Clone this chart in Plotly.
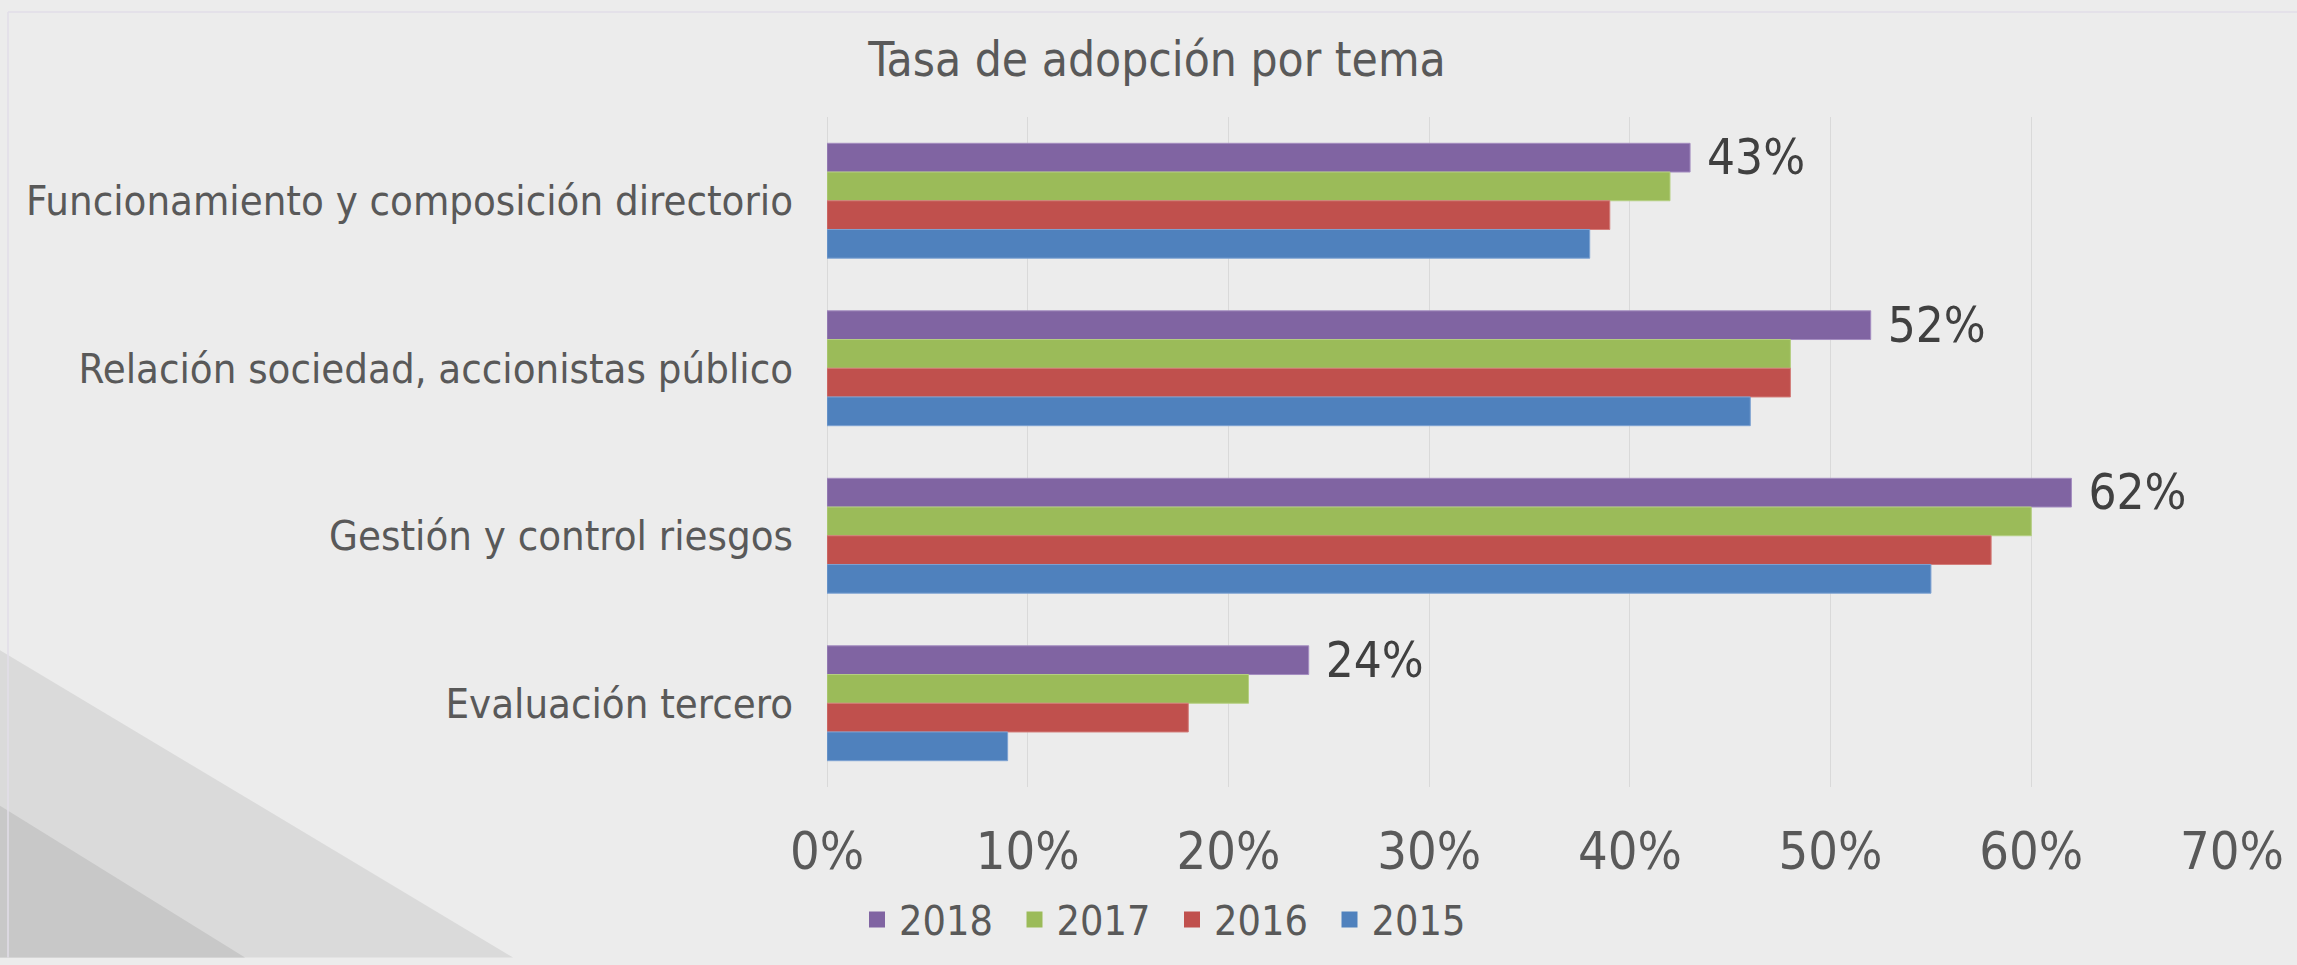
import plotly.graph_objects as go

categories = ["Funcionamiento y composición directorio",
              "Relación sociedad, accionistas público",
              "Gestión y control riesgos",
              "Evaluación tercero"]
years = ["2018", "2017", "2016", "2015"]
v2018 = [43, 52, 62, 24]
v2017 = [42, 48, 60, 21]
v2016 = [39, 48, 58, 18]
v2015 = [38, 46, 55, 9]
tick_vals = [0, 10, 20, 30, 40, 50, 60, 70]
tick_text = ["0%", "10%", "20%", "30%", "40%", "50%", "60%", "70%"]

series = [v2018, v2017, v2016, v2015]
colors = ["#8064A2", "#9BBB59", "#C0504D", "#4F81BD"]
edges = ["#A48DC0", "#B5CF82", "#D37D7A", "#7DA2D2"]

FONT = "DejaVu Sans Condensed, Liberation Sans Narrow, DejaVu Sans, sans-serif"
W, H = 2297, 965
L, R, T, B = 827, 65, 117, 172
pw, ph = W - L - R, H - T - B

def px(x):
    return (x - L) / pw

def py(y):
    return (H - B - y) / ph

fig = go.Figure()
for i, (name, vals) in enumerate(zip(years, series)):
    kw = {}
    if i == 0:
        kw = dict(text=[f"\u00a0{v}%" for v in vals], textposition="outside",
                  textfont=dict(size=49, color="#404040", family=FONT),
                  constraintext="none", cliponaxis=False)
    fig.add_trace(go.Bar(
        y=categories, x=vals, name=name, orientation="h", showlegend=False,
        legendgroup=name,
        marker=dict(color=colors[i], line=dict(color=edges[i], width=1)),
        hoverinfo="x+name", **kw))

# legend entries with larger square swatches
for i, name in enumerate(years):
    fig.add_trace(go.Scatter(
        x=[None], y=[None], mode="markers", name=name, legendgroup=name,
        marker=dict(symbol="square", size=16, color=colors[i]),
        showlegend=True, hoverinfo="skip"))

shapes = [
    dict(type="path", xref="paper", yref="paper", layer="below",
         path=f"M {px(0)},{py(655)} L {px(513)},{py(965)} L {px(0)},{py(965)} Z",
         fillcolor="#DADADA", line=dict(width=0)),
    dict(type="path", xref="paper", yref="paper", layer="below",
         path=f"M {px(0)},{py(812)} L {px(245)},{py(965)} L {px(0)},{py(965)} Z",
         fillcolor="#C8C8C8", line=dict(width=0)),
    dict(type="line", xref="paper", yref="paper", layer="below",
         x0=px(8), x1=px(8), y0=py(11), y1=py(965),
         line=dict(color="#E2DEE8", width=1.5)),
    dict(type="line", xref="paper", yref="paper", layer="below",
         x0=px(8), x1=px(2297), y0=py(11), y1=py(11),
         line=dict(color="#E2DEE8", width=1.5)),
]

fig.update_layout(
    width=W, height=H,
    paper_bgcolor="#ECECEC", plot_bgcolor="rgba(0,0,0,0)",
    margin=dict(l=L, r=R, t=T, b=B, pad=0),
    barmode="group", bargap=0.314, bargroupgap=0,
    font=dict(family=FONT, color="#595959"),
    title=dict(text="Tasa de adopción por tema", x=1157 / W, xref="container",
               xanchor="center", y=1 - 59 / H, yanchor="middle",
               font=dict(size=47.5, color="#595959", family=FONT)),
    xaxis=dict(range=[0, 70], tickvals=tick_vals, ticktext=tick_text,
               showgrid=True, gridcolor="#D9D9D9", gridwidth=1,
               zeroline=True, zerolinecolor="#D9D9D9", zerolinewidth=1,
               showline=False, ticks="", ticklabelstandoff=29,
               tickfont=dict(size=52, color="#595959", family=FONT),
               fixedrange=True),
    yaxis=dict(autorange="reversed", showgrid=False, zeroline=False,
               showline=False, ticks="", ticklabelstandoff=33,
               tickfont=dict(size=41.5, color="#595959", family=FONT),
               fixedrange=True),
    legend=dict(orientation="h", x=px(855), xanchor="left", y=py(927),
                yanchor="middle", font=dict(size=41, color="#595959", family=FONT),
                bgcolor="rgba(0,0,0,0)", traceorder="normal",
                entrywidth=108.5, entrywidthmode="pixels", itemwidth=34),
    shapes=shapes,
    showlegend=True,
)

fig.write_html("out.html",
               config={"displayModeBar": False},
               post_script="document.body.style.margin='0';"
                           "document.body.style.background='#ECECEC';")
